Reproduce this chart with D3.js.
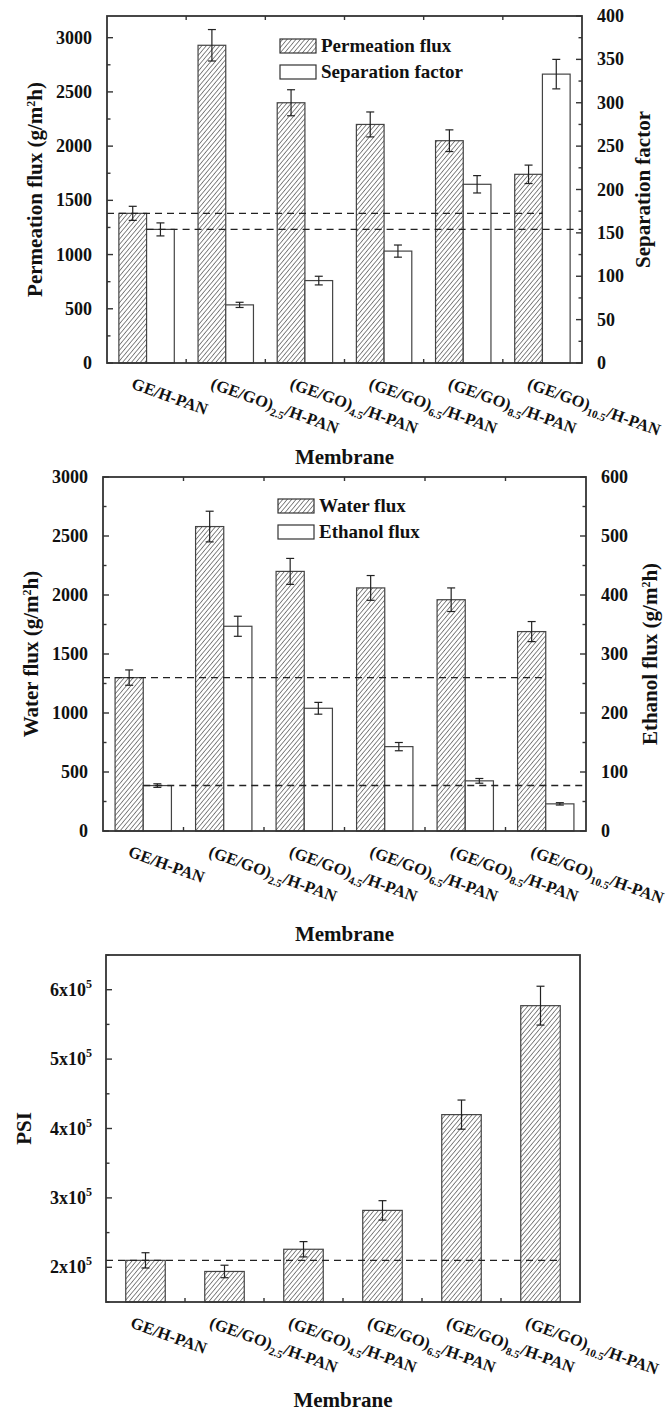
<!DOCTYPE html>
<html>
<head>
<meta charset="utf-8">
<script src="https://cdn.jsdelivr.net/npm/d3@7"></script>
<style>
  body { margin: 0; background: #fff; }
  svg text { font-family: "Liberation Serif", "Times New Roman", serif; font-weight: bold; fill: #111; }
</style>
</head>
<body>
<svg id="chart" width="670" height="1412"></svg>
<script>
"use strict";

// ---- data ----
var membranes = ["GE/H-PAN", "(GE/GO)_2.5/H-PAN", "(GE/GO)_4.5/H-PAN",
                 "(GE/GO)_6.5/H-PAN", "(GE/GO)_8.5/H-PAN", "(GE/GO)_10.5/H-PAN"];

var permeationFlux    = [1380, 2930, 2400, 2200, 2050, 1740];
var permeationFluxErr = [65, 145, 120, 115, 100, 85];
var separationFactor    = [154, 67, 95, 129, 206, 333];
var separationFactorErr = [7.5, 3, 5, 7, 10, 17];

var waterFlux    = [1300, 2580, 2200, 2060, 1960, 1690];
var waterFluxErr = [65, 130, 110, 105, 100, 85];
var ethanolFlux    = [77, 347, 208, 143, 85, 46];
var ethanolFluxErr = [3, 17, 10, 7, 4, 2];

var psi    = [2.10e5, 1.94e5, 2.26e5, 2.82e5, 4.20e5, 5.77e5];
var psiErr = [0.11e5, 0.09e5, 0.11e5, 0.14e5, 0.21e5, 0.28e5];

var leftTicks1 = [0, 500, 1000, 1500, 2000, 2500, 3000];
var rightTicks1 = [0, 50, 100, 150, 200, 250, 300, 350, 400];
var leftTicks2 = [0, 500, 1000, 1500, 2000, 2500, 3000];
var rightTicks2 = [0, 100, 200, 300, 400, 500, 600];
var psiTicks = [2e5, 3e5, 4e5, 5e5, 6e5];

var svg = d3.select("#chart");

// hatch pattern "////"
var defs = svg.append("defs");
defs.append("pattern")
    .attr("id", "hatch")
    .attr("patternUnits", "userSpaceOnUse")
    .attr("width", 3.4)
    .attr("height", 10)
    .attr("patternTransform", "rotate(40)")
  .append("line")
    .attr("x1", 0).attr("y1", 0)
    .attr("x2", 0).attr("y2", 10)
    .attr("stroke", "#111")
    .attr("stroke-width", 1);

var axisColor = "#333";

function tickLabel(sel, text) {
    // "GE/H-PAN" or "(GE/GO)_2.5/H-PAN" with subscript
    if (text.indexOf("_") < 0) {
        sel.text(text);
        return;
    }
    var head = text.split("_")[0];
    var rest = text.split("_")[1];
    var cut = rest.indexOf("/");
    sel.append("tspan").text(head);
    sel.append("tspan").attr("dy", 5).style("font-size", "11px").text(rest.slice(0, cut));
    sel.append("tspan").attr("dy", -5).text(rest.slice(cut));
}

function frame(g, x0, x1, y0, y1) {
    g.append("rect")
        .attr("x", x0).attr("y", y0)
        .attr("width", x1 - x0).attr("height", y1 - y0)
        .attr("fill", "none")
        .attr("stroke", axisColor)
        .attr("stroke-width", 1.8);
}

function yTicks(g, scale, x, dir, major, minorStep, fmt, labelDx, anchor) {
    var dom = scale.domain();
    var minors = d3.range(dom[0], dom[1] + 1e-9, minorStep);
    g.selectAll(null).data(minors).enter().append("line")
        .attr("x1", x).attr("x2", function(d) {
            return x + dir * (major.indexOf(d) >= 0 ? 6 : 3.5);
        })
        .attr("y1", function(d) { return scale(d); })
        .attr("y2", function(d) { return scale(d); })
        .attr("stroke", axisColor).attr("stroke-width", 1.4);
    var t = g.selectAll(null).data(major).enter().append("text")
        .attr("x", x + labelDx)
        .attr("y", function(d) { return scale(d) + 6; })
        .attr("text-anchor", anchor)
        .style("font-size", "18px");
    t.each(function(d) { fmt(d3.select(this), d); });
}

function xAxisBits(g, xb, y, top, withTop) {
    var bw = xb.step();
    var r = xb.range();
    var bounds = d3.range(1, membranes.length).map(function(i) { return r[0] + i * bw; });
    g.selectAll(null).data(bounds).enter().append("line")
        .attr("x1", function(d) { return d; }).attr("x2", function(d) { return d; })
        .attr("y1", y).attr("y2", y - 4)
        .attr("stroke", axisColor).attr("stroke-width", 1.4);
    if (withTop) {
        g.selectAll(null).data(bounds).enter().append("line")
            .attr("x1", function(d) { return d; }).attr("x2", function(d) { return d; })
            .attr("y1", top).attr("y2", top + 4)
            .attr("stroke", axisColor).attr("stroke-width", 1.4);
    }
    g.selectAll(null).data(membranes).enter().append("text")
        .attr("transform", function(d) {
            return "translate(" + (xb(d) + xb.bandwidth() / 2 - 16) + "," + (y + 25) + ") rotate(20)";
        })
        .style("font-size", "16.5px")
        .each(function(d) { tickLabel(d3.select(this), d); });
}

function bars(g, xb, scale, vals, errs, offset, width, fill) {
    var c = function(i) { return xb(membranes[i]) + xb.bandwidth() / 2 + offset; };
    g.selectAll(null).data(vals).enter().append("rect")
        .attr("x", function(d, i) { return c(i); })
        .attr("y", function(d) { return scale(d); })
        .attr("width", width)
        .attr("height", function(d) { return scale.range()[0] - scale(d); })
        .attr("fill", fill)
        .attr("stroke", "#444")
        .attr("stroke-width", 1.2);
    var eb = g.selectAll(null).data(vals).enter().append("g");
    eb.append("line")
        .attr("x1", function(d, i) { return c(i) + width / 2; })
        .attr("x2", function(d, i) { return c(i) + width / 2; })
        .attr("y1", function(d, i) { return scale(d + errs[i]); })
        .attr("y2", function(d, i) { return scale(d - errs[i]); });
    [1, -1].forEach(function(s) {
        eb.append("line")
            .attr("x1", function(d, i) { return c(i) + width / 2 - 4; })
            .attr("x2", function(d, i) { return c(i) + width / 2 + 4; })
            .attr("y1", function(d, i) { return scale(d + s * errs[i]); })
            .attr("y2", function(d, i) { return scale(d + s * errs[i]); });
    });
    eb.selectAll("line").attr("stroke", "#222").attr("stroke-width", 1.2);
}

function dashed(g, x1, x2, y) {
    g.append("line")
        .attr("x1", x1).attr("x2", x2)
        .attr("y1", y).attr("y2", y)
        .attr("stroke", "#222")
        .attr("stroke-width", 1.4)
        .attr("stroke-dasharray", "7,5");
}

function legend(g, x, y, labels) {
    labels.forEach(function(lab, i) {
        g.append("rect")
            .attr("x", x).attr("y", y + i * 26)
            .attr("width", 36).attr("height", 14)
            .attr("fill", i === 0 ? "url(#hatch)" : "#fff")
            .attr("stroke", "#333").attr("stroke-width", 1.2);
        g.append("text")
            .attr("x", x + 41).attr("y", y + i * 26 + 13)
            .style("font-size", "19px")
            .text(lab);
    });
}

function fluxTitle(sel, main) {
    sel.append("tspan").text(main + " (g/m");
    sel.append("tspan").attr("dy", -7).style("font-size", "12px").text("2");
    sel.append("tspan").attr("dy", 7).text("h)");
}

function plain(sel, d) { sel.text(d); }

// ---------- dual-axis panel ----------
function dualPanel(cfg) {
    var g = svg.append("g");
    var xb = d3.scaleBand().domain(membranes).range([cfg.x0, cfg.x1]);
    var yl = d3.scaleLinear().domain(cfg.leftDomain).range([cfg.y1, cfg.y0]);
    var yr = d3.scaleLinear().domain(cfg.rightDomain).range([cfg.y1, cfg.y0]);
    var bw = xb.bandwidth() * 0.35;

    bars(g, xb, yl, cfg.s1, cfg.e1, -bw, bw, "url(#hatch)");
    bars(g, xb, yr, cfg.s2, cfg.e2, 0, bw, "#fff");

    var last = membranes[membranes.length - 1];
    dashed(g, cfg.x0, xb(last) + xb.bandwidth() / 2, yl(cfg.s1[0]));
    dashed(g, xb(membranes[0]) + xb.bandwidth() / 2, cfg.x1, yr(cfg.s2[0]));

    frame(g, cfg.x0, cfg.x1, cfg.y0, cfg.y1);
    yTicks(g, yl, cfg.x0, 1, cfg.leftTicks, cfg.leftMinor, plain, -15, "end");
    yTicks(g, yr, cfg.x1, -1, cfg.rightTicks, cfg.rightMinor, plain, 15, "start");
    xAxisBits(g, xb, cfg.y1, cfg.y0, true);

    legend(g, cfg.legendX, cfg.legendY, cfg.legend);

    g.append("text")
        .attr("transform", "translate(" + cfg.leftTitleX + "," + ((cfg.y0 + cfg.y1) / 2) + ") rotate(-90)")
        .attr("text-anchor", "middle")
        .style("font-size", "21px")
        .call(cfg.leftTitle);
    g.append("text")
        .attr("transform", "translate(" + cfg.rightTitleX + "," + ((cfg.y0 + cfg.y1) / 2) + ") rotate(-90)")
        .attr("text-anchor", "middle")
        .style("font-size", "21px")
        .call(cfg.rightTitle);
    g.append("text")
        .attr("x", (cfg.x0 + cfg.x1) / 2).attr("y", cfg.memY)
        .attr("text-anchor", "middle")
        .style("font-size", "21px")
        .text("Membrane");
}

dualPanel({
    x0: 107, x1: 582, y0: 16, y1: 363,
    leftDomain: [0, 3200], rightDomain: [0, 400],
    s1: permeationFlux, e1: permeationFluxErr,
    s2: separationFactor, e2: separationFactorErr,
    leftTicks: leftTicks1, leftMinor: 250,
    rightTicks: rightTicks1, rightMinor: 25,
    legendX: 280, legendY: 39,
    legend: ["Permeation flux", "Separation factor"],
    leftTitleX: 42, rightTitleX: 650,
    leftTitle: function(s) { fluxTitle(s, "Permeation flux"); },
    rightTitle: function(s) { s.text("Separation factor"); },
    memY: 464
});

dualPanel({
    x0: 103, x1: 586, y0: 477, y1: 831,
    leftDomain: [0, 3000], rightDomain: [0, 600],
    s1: waterFlux, e1: waterFluxErr,
    s2: ethanolFlux, e2: ethanolFluxErr,
    leftTicks: leftTicks2, leftMinor: 250,
    rightTicks: rightTicks2, rightMinor: 50,
    legendX: 278, legendY: 499,
    legend: ["Water flux", "Ethanol flux"],
    leftTitleX: 38, rightTitleX: 657,
    leftTitle: function(s) { fluxTitle(s, "Water flux"); },
    rightTitle: function(s) { fluxTitle(s, "Ethanol flux"); },
    memY: 941
});

// ---------- PSI panel ----------
(function() {
    var x0 = 106, x1 = 580, y0 = 955, y1 = 1302;
    var g = svg.append("g");
    var xb = d3.scaleBand().domain(membranes).range([x0, x1]);
    var y = d3.scaleLinear().domain([1.5e5, 6.5e5]).range([y1, y0]);
    var bw = xb.bandwidth() * 0.5;

    bars(g, xb, y, psi, psiErr, -bw / 2, bw, "url(#hatch)");
    var last = membranes[membranes.length - 1];
    dashed(g, x0, xb(last) + xb.bandwidth() / 2 + bw / 2, y(psi[0]));

    frame(g, x0, x1, y0, y1);
    yTicks(g, y, x0, 1, psiTicks, 0.5e5, function(sel, d) {
        sel.append("tspan").text((d / 1e5) + "x10");
        sel.append("tspan").attr("dy", -8).style("font-size", "12px").text("5");
    }, -14, "end");
    xAxisBits(g, xb, y1, y0, false);

    g.append("text")
        .attr("transform", "translate(31," + ((y0 + y1) / 2) + ") rotate(-90)")
        .attr("text-anchor", "middle")
        .style("font-size", "21px")
        .text("PSI");
    g.append("text")
        .attr("x", (x0 + x1) / 2).attr("y", 1407)
        .attr("text-anchor", "middle")
        .style("font-size", "21px")
        .text("Membrane");
})();
</script>
</body>
</html>
